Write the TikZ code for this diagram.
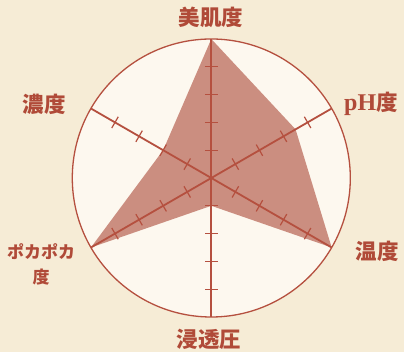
\documentclass[tikz,border=0pt]{standalone}
\usepackage{fontspec}
\usetikzlibrary{calc}
\newfontfamily\cjk{Noto Sans CJK JP}
\newfontfamily\lserif{Liberation Serif}
\definecolor{bgc}{HTML}{F6ECD6}
\definecolor{circfill}{HTML}{FDF8EF}
\definecolor{linec}{HTML}{B5503F}
\definecolor{polyc}{HTML}{CB8E80}
\definecolor{textc}{HTML}{B04A38}
\tikzset{
  axisline/.style={draw=linec, line width=1.8pt},
  tickline/.style={draw=linec, line width=1.2pt},
  lbl/.style={text=textc, font=\cjk\bfseries\fontsize{21.5}{22}\selectfont, inner sep=0pt},
  lblsmall/.style={text=textc, font=\cjk\bfseries\fontsize{17}{25}\selectfont, inner sep=0pt, align=center},
}
\begin{document}
\begin{tikzpicture}[x=1pt,y=1pt]
\useasboundingbox (0,0) rectangle (404,352);
\fill[bgc] (0,0) rectangle (404,352);
\coordinate (O) at (211.3,174);
\def\R{139}
\def\S{27.8}
\fill[circfill] (O) circle (\R);
% data polygon
\coordinate (p1) at ($(O)+(90:\R)$);
\coordinate (p2) at ($(O)+(30:3.5*\S)$);
\coordinate (p3) at ($(O)+(-30:\R)$);
\coordinate (p4) at ($(O)+(-90:\S)$);
\coordinate (p5) at ($(O)+(210:\R)$);
\coordinate (p6) at ($(O)+(150:2*\S)$);
\fill[polyc] (p1) -- (p2) -- (p3) -- (p4) -- (p5) -- (p6) -- cycle;
\draw[linec, line width=1.3pt] (O) circle (\R);
% axes
\foreach \a [count=\i] in {90,30,-30} {
  \coordinate (e\i) at ($(O)+(\a:\R)$);
  \coordinate (f\i) at ($(O)+(\a+180:\R)$);
  \draw[axisline] (e\i) -- (f\i);
}
% ticks
\foreach \a in {90,30,-30,-90,210,150} {
  \foreach \k in {1,2,3,4} {
    \draw[tickline] ($(O)+(\a:\k*\S)+(\a+90:6.5)$) -- ($(O)+(\a:\k*\S)+(\a-90:6.5)$);
  }
}
% labels
\node[lbl] (l1) at (211,335) {美肌度};
\node[lbl] (l2) at (371,248) {{\lserif\bfseries\fontsize{24}{24}\selectfont pH}度};
\node[lbl] (l3) at (377,100.5) {温度};
\node[lbl] (l4) at (209,13) {浸透圧};
\node[lblsmall] (l5) at (41,88) {ポカポカ\\度};
\node[lbl] (l6) at (44,248) {濃度};
\end{tikzpicture}
\end{document}
